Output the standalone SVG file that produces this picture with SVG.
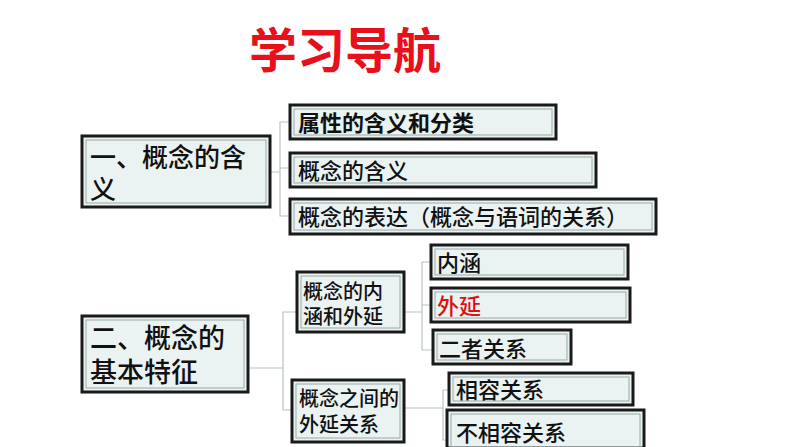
<svg xmlns="http://www.w3.org/2000/svg" width="794" height="447" viewBox="0 0 794 447">
<style>
.b{fill:#eaf2f2;stroke:#1a1a1a;stroke-width:3}
.i{fill:none;stroke:#9aa;stroke-width:1}
text{font-family:"Noto Sans CJK SC","Noto Sans",sans-serif;fill:#111;font-weight:500}
.c{fill:none;stroke:#b8c4c4;stroke-width:1.2}
</style>
<rect width="794" height="447" fill="#fff"/>
<text x="345" y="68" font-size="48" font-weight="bold" text-anchor="middle" style="fill:#e8101a;font-weight:bold">学习导航</text>
<g id="connectors">
<path class="c" d="M271 172H280M289 122H280V216H289M280 168H289"/>
<path class="c" d="M249 368H283M297 312H283V410H291"/>
<path class="c" d="M405 312H422M431 262H422V350H434M422 305H431"/>
<path class="c" d="M405 408H443M449 390H443V440H445"/>
</g>
<g id="n1"><rect class="b" x="82" y="136" width="188" height="71"/><rect class="i" x="86" y="140" width="180" height="63"/><text x="90" y="167" font-size="26">一、概念的含</text><text x="90" y="199" font-size="26">义</text></g>
<g id="n2"><rect class="b" x="290" y="105" width="266" height="34"/><rect class="i" x="294" y="109" width="258" height="26"/><text x="298" y="131" font-size="22" style="font-weight:bold">属性的含义和分类</text></g>
<g id="n3"><rect class="b" x="290" y="153" width="306" height="34"/><rect class="i" x="294" y="157" width="298" height="26"/><text x="298" y="179" font-size="22">概念的含义</text></g>
<g id="n4"><rect class="b" x="290" y="199" width="366" height="35"/><rect class="i" x="294" y="203" width="358" height="27"/><text x="298" y="225" font-size="22">概念的表达（概念与语词的关系）</text></g>
<g id="n5"><rect class="b" x="82" y="316" width="166" height="76"/><rect class="i" x="86" y="320" width="158" height="68"/><text x="90" y="348" font-size="27">二、概念的</text><text x="90" y="382" font-size="27">基本特征</text></g>
<g id="n6"><rect class="b" x="297" y="272" width="107" height="60"/><rect class="i" x="301" y="276" width="99" height="52"/><text x="303" y="299" font-size="20">概念的内</text><text x="303" y="324" font-size="20">涵和外延</text></g>
<g id="n7"><rect class="b" x="431" y="245" width="197" height="34"/><rect class="i" x="435" y="249" width="189" height="26"/><text x="437" y="271" font-size="22">内涵</text></g>
<g id="n8"><rect class="b" x="431" y="288" width="199" height="34"/><rect class="i" x="435" y="292" width="191" height="26"/><text x="437" y="314" font-size="22" style="fill:#e01010">外延</text></g>
<g id="n9"><rect class="b" x="433" y="330" width="138" height="34"/><rect class="i" x="437" y="334" width="130" height="26"/><text x="439" y="357" font-size="22">二者关系</text></g>
<g id="n10"><rect class="b" x="292" y="380" width="112" height="62"/><rect class="i" x="296" y="384" width="104" height="54"/><text x="299" y="406" font-size="20">概念之间的</text><text x="299" y="432" font-size="20">外延关系</text></g>
<g id="n11"><rect class="b" x="449" y="373" width="184" height="32"/><rect class="i" x="453" y="377" width="176" height="24"/><text x="456" y="398" font-size="22">相容关系</text></g>
<g id="n12"><rect class="b" x="447" y="410" width="197" height="38"/><rect class="i" x="451" y="414" width="189" height="33"/><text x="456" y="441" font-size="22">不相容关系</text></g>
</svg>
